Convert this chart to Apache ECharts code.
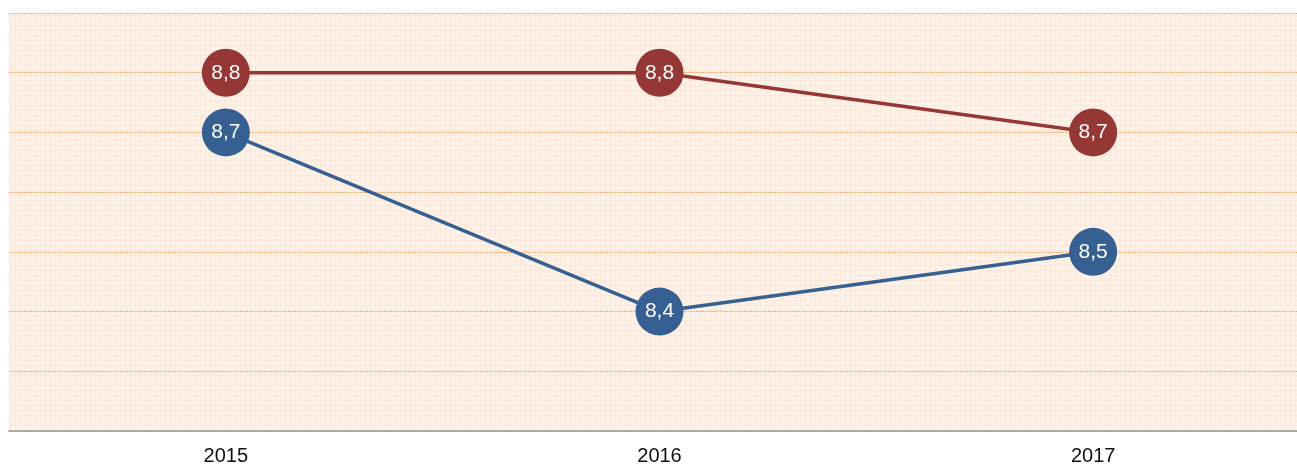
<!DOCTYPE html>
<html><head><meta charset="utf-8">
<script src="https://cdn.jsdelivr.net/npm/echarts@6/dist/echarts.min.js"></script>
<style>html,body{margin:0;padding:0;background:#fff;overflow:hidden;width:1297px;height:469px}#c{width:1310px;height:469px}</style>
</head><body><div id="c"></div>
<script>
const categories = ['2015', '2016', '2017'];
const redValues = [8.8, 8.8, 8.7];
const blueValues = [8.7, 8.4, 8.5];
const yMin = 8.2, yMax = 8.9, yStep = 0.1;

const pc = document.createElement('canvas');
pc.width = 5; pc.height = 5;
const g = pc.getContext('2d');
g.fillStyle = '#fdf2e8'; g.fillRect(0,0,5,5);
g.fillStyle = '#fbe8da'; g.fillRect(0,0,5,1); g.fillRect(0,0,1,5);

const chart = echarts.init(document.getElementById('c'), null, {renderer:'canvas'});
function ser(name, data, color){
  return {
    name, type:'line', data, symbol:'circle', symbolSize:48,
    lineStyle:{color, width:3.5}, itemStyle:{color},
    label:{show:true, position:'inside', color:'#fff', fontSize:21,
      fontFamily:'Liberation Sans, Arial, sans-serif',
      formatter:p => String(p.value.toFixed(1)).replace('.', ',')},
    emphasis:{disabled:true}, z:3
  };
}
chart.setOption({
  animation:false,
  grid:{left:9, top:13, right:0, bottom:38, show:true, borderWidth:0, containLabel:false,
    backgroundColor:{image:pc, repeat:'repeat'}},
  xAxis:{type:'category', data:categories, boundaryGap:true,
    axisLine:{lineStyle:{color:'#999', width:1.5}}, axisTick:{show:false},
    axisLabel:{color:'#111', fontSize:20, margin:15, fontFamily:'Liberation Sans, Arial, sans-serif'}},
  yAxis:{type:'value', min:yMin, max:yMax, interval:yStep, axisLabel:{show:false},
    axisLine:{show:false}, axisTick:{show:false},
    splitLine:{show:true, lineStyle:{color:'#f3ad6c', type:[2,1], width:1.2}}},
  series:[ser('A', redValues, '#953735'), ser('B', blueValues, '#376092')]
});
</script></body></html>
